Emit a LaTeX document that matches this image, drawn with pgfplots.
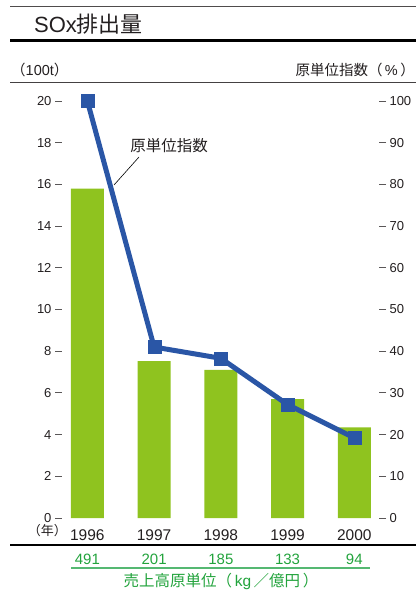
\documentclass[border=0pt]{standalone}
\usepackage{pgfplots}
\pgfplotsset{compat=1.18}
\usepackage{fontspec}
\setmainfont{Liberation Sans}
\newfontfamily\cjk{Noto Sans CJK JP}
\definecolor{barg}{HTML}{8FC31F}
\definecolor{lineb}{HTML}{2A56A6}
\definecolor{txtg}{HTML}{22A33C}
\definecolor{ruleg}{HTML}{55B872}
\definecolor{txt}{HTML}{231F20}
\begin{document}
\begin{tikzpicture}
\path[use as bounding box] (0pt,0pt) rectangle (416pt,-591pt);
% rules and headings
\draw[txt!80, line width=1pt] (10pt,-7pt) -- (416pt,-7pt);
\draw[black, line width=3pt] (10pt,-41pt) -- (416pt,-41pt);
\draw[txt!85, line width=1pt] (10pt,-83pt) -- (416pt,-83pt);
\node[anchor=west, inner sep=0pt, text=txt] at (34pt,-24pt) {\fontsize{22}{22}\selectfont SOx{\cjk 排出量}};
\node[anchor=west, inner sep=0pt, text=txt] at (11pt,-70pt) {\fontsize{14.5}{14.5}\selectfont{\cjk （}100t{\cjk ）}};
\node[anchor=east, inner sep=0pt, text=txt] at (415pt,-70pt) {\fontsize{14.5}{14.5}\selectfont{\cjk 原単位指数（\,}\%{\cjk \,）}};
\node[anchor=east, inner sep=0pt, text=txt] at (67pt,-531pt) {\fontsize{13}{13}\selectfont{\cjk （年）}};
\draw[black, line width=1.2pt] (10pt,-545pt) -- (416pt,-545pt);
\draw[ruleg, line width=2pt] (71pt,-568pt) -- (370pt,-568pt);
\node[inner sep=0pt, text=txtg] at (221pt,-581pt) {\fontsize{15.5}{15.5}\selectfont{\cjk 売上高原単位（\,}kg{\cjk \,／億円\,）}};
% left axis with bars
\begin{axis}[
  at={(62pt,-518pt)}, anchor=south west,
  width=317pt, height=417pt, scale only axis,
  xmin=-0.38, xmax=4.37, ymin=0, ymax=20,
  axis x line*=bottom, x axis line style={draw=none},
  axis y line*=left, y axis line style={draw=none},
  xtick={0,1,2,3,4}, xticklabels={1996,1997,1998,1999,2000},
  x tick style={draw=none},
  xticklabel style={font=\fontsize{15.5}{15.5}\selectfont, text=txt, yshift=-1pt},
  ytick={0,2,...,20},
  y tick style={draw=txt!75, line width=0.9pt},
  major tick length=7pt, tick align=outside,
  yticklabel style={font=\fontsize{13}{13}\selectfont, text=txt},
  /pgf/number format/assume math mode=true,
  clip=false,
]
\addplot[ybar, bar width=33pt, fill=barg, draw=none] coordinates {(0,15.8) (1,7.53) (2,7.1) (3,5.7) (4,4.35)};
\foreach \i/\v in {0/491,1/201,2/185,3/133,4/94}{
  \edef\tmp{\noexpand\node[text=txtg, inner sep=0pt] at (axis cs:\i,0) [yshift=-41pt] {\noexpand\fontsize{15}{15}\noexpand\selectfont \v};}
  \tmp
}
\end{axis}
% right axis with index line
\begin{axis}[
  at={(62pt,-518pt)}, anchor=south west,
  width=317pt, height=417pt, scale only axis,
  xmin=-0.38, xmax=4.37, ymin=0, ymax=100,
  axis x line=none,
  axis y line*=right, y axis line style={draw=none},
  ytick={0,10,...,100},
  y tick style={draw=txt!75, line width=0.9pt},
  major tick length=7pt, tick align=outside,
  yticklabel style={font=\fontsize{13}{13}\selectfont, text=txt},
  /pgf/number format/assume math mode=true,
  clip=false,
]
\addplot[lineb, line width=5pt, mark=square*, mark size=6.5pt, mark options={line width=0.1pt, fill=lineb, draw=lineb}] coordinates {(0,100) (1,41.0) (2,38.3) (3,27.2) (4,19.2)};
\end{axis}
% annotation
\draw[black, line width=0.6pt] (139pt,-157pt) -- (114pt,-185pt);
\node[inner sep=0pt, text=txt] at (169pt,-146pt) {\fontsize{15.5}{15.5}\selectfont\cjk 原単位指数};
\end{tikzpicture}
\end{document}
